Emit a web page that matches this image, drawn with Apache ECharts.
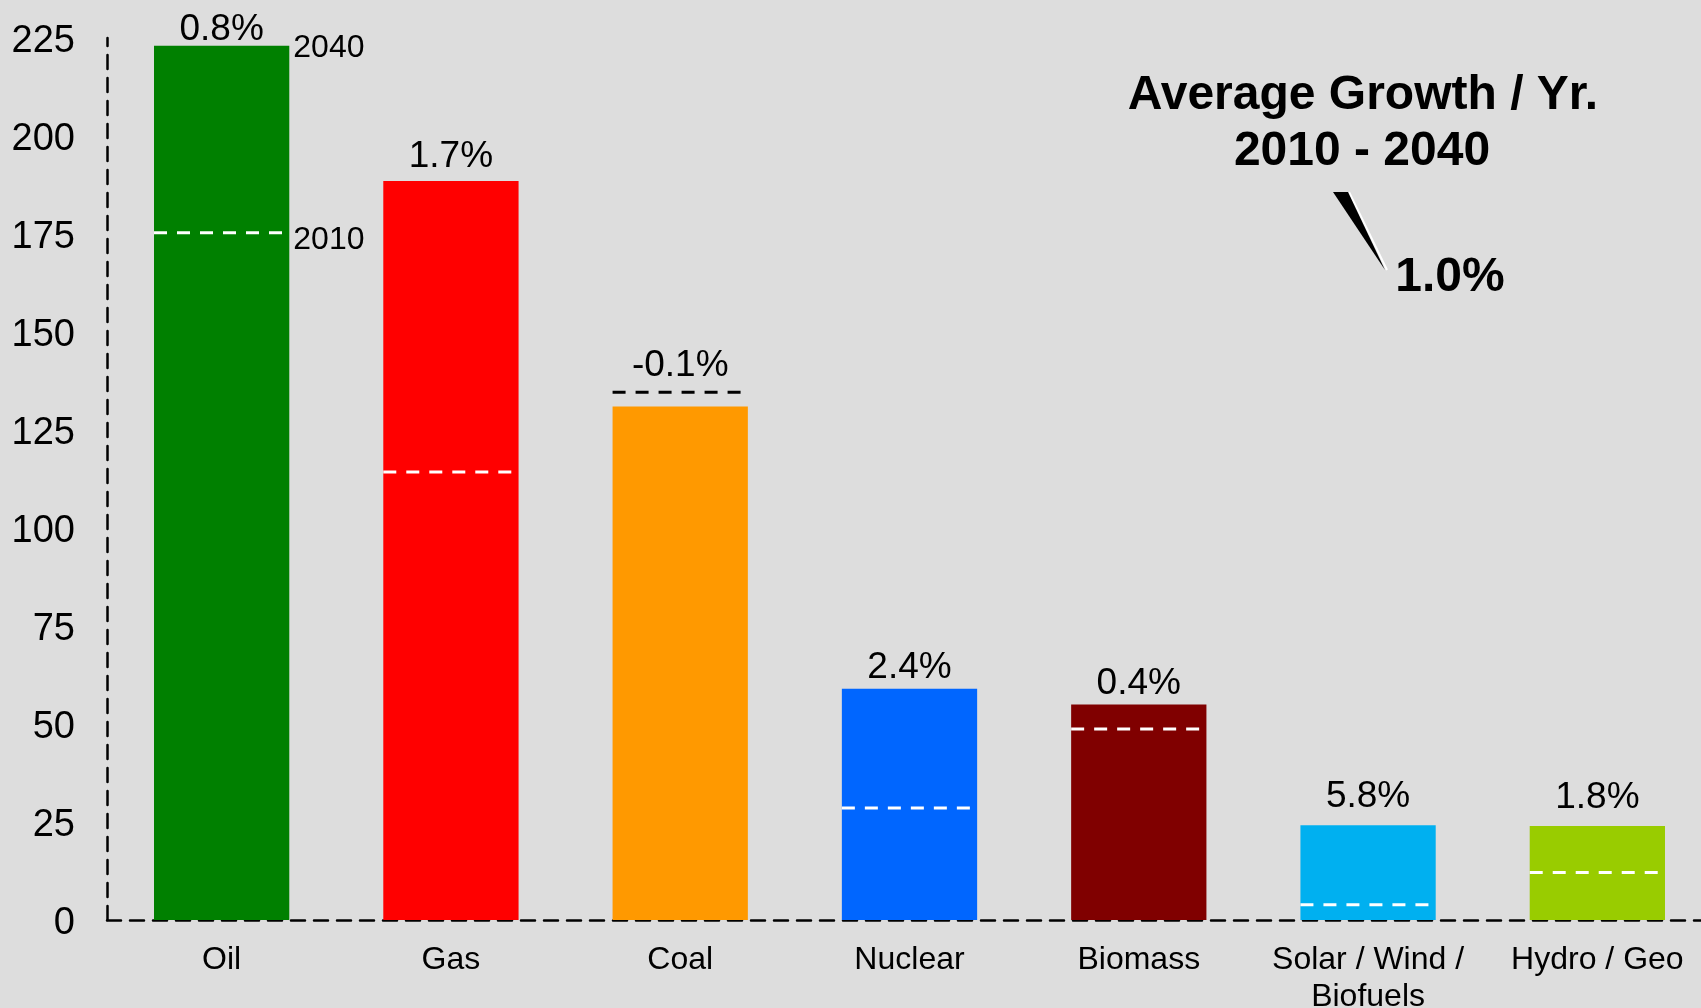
<!DOCTYPE html>
<html>
<head>
<meta charset="utf-8">
<title>Average Growth 2010 - 2040</title>
<script src="https://cdn.jsdelivr.net/npm/echarts@6/dist/echarts.min.js"></script>
<style>
  html, body { margin: 0; padding: 0; background: #dddddd; }
  #chart { width: 1701px; height: 1008px; }
</style>
</head>
<body>
<div id="chart"></div>
<script>
// chart data
const categories = ['Oil', 'Gas', 'Coal', 'Nuclear', 'Biomass', 'Solar / Wind /\nBiofuels', 'Hydro / Geo']
const values2040 = [223, 188.5, 131, 59, 55, 24.2, 24]
const values2010 = [175.3, 114.3, 134.6, 28.6, 48.7, 3.9, 12.1]
const growthLabels = ['0.8%', '1.7%', '-0.1%', '2.4%', '0.4%', '5.8%', '1.8%']
const barColors = ['#008000', '#ff0000', '#ff9900', '#0066ff', '#800000', '#00b0f0', '#99cc00']
const yearTags = ['2040', '2010'] // shown beside the first bar only
const avgTitle = ['Average Growth / Yr.', '2010 - 2040']
const avgValue = '1.0%'

// gap (px) between each growth label and the mark under it
const labelGap = [6, 14, 17, 11, 11, 18, 18]

const FONT = '"Liberation Sans", Arial, sans-serif'
const axisDash = { color: '#000', width: 2.5, type: [14, 9] }

const chart = echarts.init(document.getElementById('chart'))

function renderMarks(params, api) {
  const i = api.value(0)
  const v2010 = api.value(1)
  const v2040 = api.value(2)
  const band = api.size([1, 0])[0]
  const half = band * 0.295
  const p10 = api.coord([i, v2010])
  const p40 = api.coord([i, v2040])
  const top = Math.min(p10[1], p40[1])
  const children = [
    {
      type: 'line',
      shape: { x1: p10[0] - half, y1: p10[1], x2: p10[0] + half, y2: p10[1] },
      style: {
        stroke: v2010 > v2040 ? '#000' : '#fff',
        lineWidth: 3,
        lineDash: [13, 10]
      }
    },
    {
      type: 'text',
      x: p10[0],
      y: top - labelGap[i] - 10,
      style: {
        text: growthLabels[i],
        font: '37px ' + FONT,
        fill: '#000',
        align: 'center',
        verticalAlign: 'middle'
      }
    }
  ]
  if (i === 0) {
    children.push({
      type: 'text',
      x: p40[0] + half + 4,
      y: p40[1] + 2,
      style: { text: yearTags[0], font: '32px ' + FONT, fill: '#000', align: 'left', verticalAlign: 'middle' }
    })
    children.push({
      type: 'text',
      x: p10[0] + half + 4,
      y: p10[1] + 7,
      style: { text: yearTags[1], font: '32px ' + FONT, fill: '#000', align: 'left', verticalAlign: 'middle' }
    })
  }
  return { type: 'group', children: children }
}

const option = {
  backgroundColor: '#dddddd',
  animation: false,
  textStyle: { fontFamily: FONT },
  grid: { left: 107, right: -11, top: 38, bottom: 88, containLabel: false, outerBoundsMode: 'none' },
  xAxis: {
    type: 'category',
    data: categories,
    axisLine: { lineStyle: axisDash },
    axisTick: { show: false },
    axisLabel: { color: '#000', fontSize: 32, lineHeight: 37, margin: 22, fontFamily: FONT, interval: 0 }
  },
  yAxis: {
    type: 'value',
    min: 0,
    max: 225,
    interval: 25,
    axisLine: { show: true, lineStyle: axisDash },
    axisTick: { show: false },
    splitLine: { show: false },
    axisLabel: {
      margin: 32,
      formatter: '{v|{value}}',
      rich: { v: { color: '#000', fontSize: 38, fontFamily: FONT, padding: [8, 0, 0, 0] } }
    }
  },
  series: [
    {
      name: '2040',
      type: 'bar',
      barWidth: '59%',
      data: values2040.map((v, i) => ({ value: v, itemStyle: { color: barColors[i] } }))
    },
    {
      name: '2010',
      type: 'custom',
      renderItem: renderMarks,
      encode: { x: 0, y: 1 },
      z: 5,
      data: values2010.map((v, i) => [i, v, values2040[i]])
    }
  ],
  graphic: [
    {
      type: 'text',
      x: 1363, y: 96,
      style: { text: avgTitle[0], font: 'bold 48px ' + FONT, fill: '#000', align: 'center', verticalAlign: 'middle' }
    },
    {
      type: 'text',
      x: 1362, y: 152,
      style: { text: avgTitle[1], font: 'bold 48px ' + FONT, fill: '#000', align: 'center', verticalAlign: 'middle' }
    },
    {
      type: 'text',
      x: 1450, y: 278,
      style: { text: avgValue, font: 'bold 48px ' + FONT, fill: '#000', align: 'center', verticalAlign: 'middle' }
    },
    {
      type: 'line',
      shape: { x1: 1349, y1: 192, x2: 1387, y2: 270 },
      style: { stroke: '#fff', lineWidth: 2 }
    },
    {
      type: 'polygon',
      shape: { points: [[1333, 192], [1348, 192], [1385, 270]] },
      style: { fill: '#000' }
    }
  ]
}

chart.setOption(option)
</script>
</body>
</html>
